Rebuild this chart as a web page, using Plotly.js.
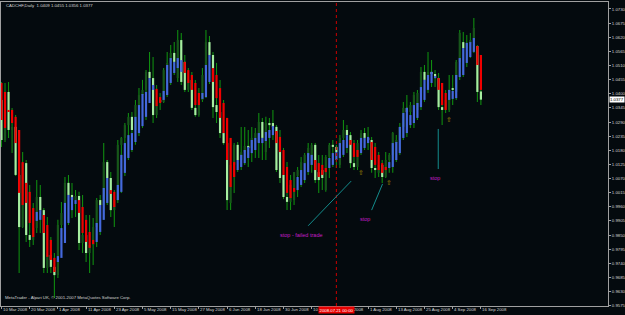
<!DOCTYPE html>
<html><head><meta charset="utf-8">
<script src="https://cdn.plot.ly/plotly-3.0.1.min.js"></script>
<style>html,body{margin:0;padding:0;background:#040a0e;}#chart{width:625px;height:315px;}</style>
</head><body><div id="chart"></div>
<script>
const openP = [1.0376,1.0220,1.0407,1.0259,1.0271,1.0084,0.9881,1.0130,0.9850,0.9831,
0.9877,0.9998,0.9947,0.9722,0.9772,0.9726,0.9694,0.9889,0.9936,1.0053,
1.0006,0.9986,1.0002,0.9819,0.9850,0.9780,0.9811,0.9881,0.9986,0.9967,
1.0134,1.0072,0.9947,0.9986,1.0201,1.0228,1.0278,1.0310,1.0259,1.0356,
1.0395,1.0415,1.0485,1.0461,1.0317,1.0376,1.0368,1.0492,1.0520,1.0559,
1.0461,1.0609,1.0524,1.0415,1.0454,1.0345,1.0317,1.0376,1.0473,1.0601,
1.0551,1.0356,1.0329,1.0247,1.0208,0.9975,1.0123,1.0201,1.0142,1.0173,
1.0197,1.0189,1.0228,1.0212,1.0290,1.0173,1.0286,1.0286,1.0271,1.0181,
1.0084,0.9998,0.9979,0.9986,1.0080,1.0103,1.0130,1.0162,1.0123,1.0201,
1.0095,1.0103,1.0025,1.0154,1.0201,1.0193,1.0123,1.0228,1.0259,1.0239,
1.0130,1.0115,1.0208,1.0247,1.0228,1.0220,1.0111,1.0092,1.0123,1.0076,
1.0142,1.0162,1.0208,1.0220,1.0271,1.0345,1.0329,1.0356,1.0337,1.0403,
1.0485,1.0454,1.0485,1.0477,1.0461,1.0348,1.0337,1.0337,1.0422,1.0407,
1.0524,1.0601,1.0578,1.0598,1.0609,1.0586,1.0409];
const highP = [1.0446,1.0442,1.0446,1.0345,1.0317,1.0259,1.0173,1.0142,1.0045,0.9975,
1.0064,1.0045,0.9955,0.9920,0.9842,0.9780,0.9909,0.9979,1.0076,1.0084,
1.0053,1.0025,1.0018,1.0006,0.9928,0.9928,0.9916,0.9994,1.0006,1.0208,
1.0142,1.0095,1.0025,1.0220,1.0232,1.0286,1.0325,1.0329,1.0376,1.0422,
1.0454,1.0492,1.0563,1.0543,1.0434,1.0403,1.0500,1.0563,1.0590,1.0601,
1.0648,1.0637,1.0551,1.0500,1.0485,1.0454,1.0422,1.0500,1.0648,1.0625,
1.0563,1.0520,1.0454,1.0376,1.0306,1.0228,1.0208,1.0212,1.0271,1.0271,
1.0259,1.0271,1.0267,1.0325,1.0306,1.0310,1.0306,1.0337,1.0278,1.0259,
1.0189,1.0134,1.0084,1.0095,1.0115,1.0154,1.0169,1.0208,1.0208,1.0208,
1.0162,1.0162,1.0162,1.0208,1.0220,1.0201,1.0239,1.0298,1.0278,1.0251,
1.0220,1.0220,1.0259,1.0267,1.0271,1.0232,1.0208,1.0173,1.0142,1.0173,
1.0169,1.0251,1.0239,1.0286,1.0368,1.0395,1.0368,1.0407,1.0415,1.0504,
1.0512,1.0563,1.0531,1.0492,1.0481,1.0442,1.0415,1.0473,1.0473,1.0531,
1.0648,1.0640,1.0629,1.0637,1.0695,1.0590,1.0455];
const lowP = [1.0193,1.0212,1.0228,1.0169,1.0080,0.9702,0.9877,0.9823,0.9803,0.9811,
0.9858,0.9858,0.9702,0.9702,0.9702,0.9605,0.9683,0.9811,0.9889,0.9889,
0.9916,0.9920,0.9792,0.9780,0.9745,0.9702,0.9733,0.9803,0.9850,0.9909,
0.9967,0.9920,0.9881,0.9975,1.0014,1.0080,1.0142,1.0173,1.0201,1.0236,
1.0267,1.0298,1.0364,1.0286,1.0306,1.0337,1.0364,1.0387,1.0434,1.0473,
1.0446,1.0434,1.0407,1.0407,1.0337,1.0310,1.0310,1.0368,1.0383,1.0438,
1.0306,1.0286,1.0228,1.0201,0.9947,0.9947,1.0014,1.0095,1.0103,1.0123,
1.0115,1.0134,1.0150,1.0150,1.0142,1.0142,1.0189,1.0220,1.0095,1.0053,
0.9990,0.9947,0.9947,0.9967,0.9998,1.0037,1.0053,1.0084,1.0092,1.0053,
1.0014,1.0025,1.0018,1.0072,1.0115,1.0111,1.0111,1.0154,1.0169,1.0111,
1.0103,1.0103,1.0162,1.0181,1.0181,1.0092,1.0072,1.0076,1.0053,1.0072,
1.0092,1.0092,1.0134,1.0162,1.0220,1.0232,1.0267,1.0267,1.0298,1.0337,
1.0368,1.0403,1.0426,1.0426,1.0337,1.0278,1.0325,1.0329,1.0356,1.0376,
1.0454,1.0465,1.0504,1.0539,1.0559,1.0368,1.0356];
const closeP = [1.0220,1.0407,1.0259,1.0271,1.0084,0.9881,1.0130,0.9850,0.9831,0.9877,
0.9998,0.9947,0.9722,0.9772,0.9726,0.9694,0.9889,0.9936,1.0053,1.0006,
0.9986,1.0002,0.9819,0.9850,0.9780,0.9811,0.9881,0.9986,0.9967,1.0134,
1.0072,0.9947,0.9986,1.0201,1.0228,1.0278,1.0310,1.0259,1.0356,1.0395,
1.0415,1.0485,1.0461,1.0317,1.0376,1.0368,1.0492,1.0520,1.0559,1.0524,
1.0609,1.0446,1.0415,1.0454,1.0345,1.0317,1.0376,1.0473,1.0601,1.0551,
1.0348,1.0329,1.0247,1.0208,0.9986,1.0123,1.0201,1.0142,1.0173,1.0197,
1.0189,1.0228,1.0247,1.0290,1.0228,1.0286,1.0278,1.0271,1.0103,1.0072,
0.9998,0.9979,1.0045,1.0095,1.0103,1.0134,1.0162,1.0189,1.0201,1.0064,
1.0064,1.0072,1.0154,1.0201,1.0193,1.0173,1.0228,1.0259,1.0239,1.0130,
1.0115,1.0208,1.0247,1.0228,1.0220,1.0111,1.0103,1.0123,1.0076,1.0142,
1.0162,1.0247,1.0220,1.0271,1.0345,1.0329,1.0356,1.0395,1.0403,1.0485,
1.0454,1.0485,1.0477,1.0461,1.0348,1.0337,1.0376,1.0415,1.0415,1.0524,
1.0637,1.0578,1.0598,1.0609,1.0656,1.0407,1.0377];
const haOpen = [1.0442,1.0407,1.0337,1.0337,1.0310,1.0259,1.0134,1.0053,1.0018,0.9955,
0.9905,0.9909,0.9928,0.9889,0.9831,0.9761,0.9745,0.9761,0.9819,0.9897,
0.9947,0.9971,0.9986,0.9959,0.9909,0.9862,0.9831,0.9823,0.9862,0.9909,
0.9975,1.0025,1.0018,0.9986,1.0018,1.0092,1.0150,1.0181,1.0212,1.0247,
1.0274,1.0310,1.0364,1.0415,1.0419,1.0387,1.0376,1.0395,1.0442,1.0481,
1.0500,1.0485,1.0524,1.0492,1.0473,1.0442,1.0403,1.0380,1.0387,1.0446,
1.0500,1.0473,1.0422,1.0364,1.0306,1.0228,1.0134,1.0103,1.0115,1.0130,
1.0150,1.0169,1.0181,1.0208,1.0208,1.0216,1.0228,1.0239,1.0255,1.0232,
1.0181,1.0115,1.0064,1.0033,1.0025,1.0045,1.0064,1.0095,1.0123,1.0142,
1.0130,1.0123,1.0111,1.0111,1.0123,1.0142,1.0150,1.0162,1.0189,1.0220,
1.0208,1.0181,1.0169,1.0189,1.0208,1.0212,1.0193,1.0162,1.0130,1.0115,
1.0111,1.0115,1.0142,1.0169,1.0228,1.0247,1.0278,1.0286,1.0306,1.0348,
1.0376,1.0415,1.0442,1.0461,1.0461,1.0442,1.0403,1.0376,1.0380,1.0383,
1.0465,1.0473,1.0520,1.0543,1.0563,1.0586,1.0551];
const haClose = [1.0298,1.0267,1.0329,1.0286,1.0208,1.0014,0.9967,0.9975,0.9897,0.9842,
0.9940,0.9947,0.9858,0.9765,0.9753,0.9706,0.9768,0.9877,0.9975,1.0006,
0.9998,0.9986,0.9936,0.9858,0.9823,0.9800,0.9815,0.9897,0.9967,1.0033,
1.0072,1.0010,0.9959,1.0045,1.0162,1.0208,1.0239,1.0247,1.0310,1.0356,
1.0399,1.0407,1.0461,1.0434,1.0352,1.0364,1.0411,1.0512,1.0539,1.0524,
1.0539,1.0531,1.0481,1.0442,1.0415,1.0356,1.0356,1.0403,1.0512,1.0551,
1.0446,1.0383,1.0306,1.0247,1.0142,1.0037,1.0076,1.0142,1.0162,1.0181,
1.0193,1.0220,1.0228,1.0247,1.0228,1.0251,1.0259,1.0274,1.0208,1.0173,
1.0084,1.0014,0.9994,1.0018,1.0076,1.0103,1.0130,1.0169,1.0162,1.0103,
1.0076,1.0084,1.0095,1.0150,1.0169,1.0173,1.0208,1.0220,1.0239,1.0201,
1.0154,1.0154,1.0228,1.0228,1.0232,1.0142,1.0123,1.0103,1.0092,1.0103,
1.0134,1.0208,1.0212,1.0271,1.0325,1.0345,1.0317,1.0356,1.0364,1.0426,
1.0454,1.0473,1.0485,1.0469,1.0415,1.0356,1.0337,1.0415,1.0411,1.0473,
1.0539,1.0578,1.0598,1.0601,1.0617,1.0512,1.0415];
const dateTickIdx = [0,8,16,24,32,40,48,56,64,72,80,88,96,104,112,120,128,136];
const dateTickText = ['10 Mar 2008','20 Mar 2008','1 Apr 2008','11 Apr 2008','23 Apr 2008','5 May 2008','15 May 2008','27 May 2008','6 Jun 2008','18 Jun 2008','30 Jun 2008','10 Jul 2008','22 Jul 2008','1 Aug 2008','13 Aug 2008','25 Aug 2008','4 Sep 2008','16 Sep 2008'];
const priceTicks = [1.0730,1.0675,1.0620,1.0565,1.0510,1.0455,1.0400,1.0345,1.0290,1.0235,1.0180,1.0125,1.0070,1.0015,0.9960,0.9905,0.9850,0.9795,0.9740,0.9685,0.9630,0.9575];
const symbolTitle = 'CADCHF,Daily';
const lastPrice = 1.0377;
const cursorBarIdx = 95;
const cursorLabel = '2008.07.21 00:00';
const noteTexts = ['stop - failed trade','stop','stop'];
const noteX = [85, 103, 123];
const noteY = [0.9850, 0.9912, 1.0071];
const arrowX = [102, 110, 127];
const arrowY = [1.0092, 1.0051, 1.0298];
const trendX0 = [87.0, 105.0, 123.9];
const trendY0 = [0.9886, 0.9947, 1.0107];
const trendX1 = [99.2, 108.1, 123.9];
const trendY1 = [1.0060, 1.0049, 1.0263];

const idx = openP.map((_, i) => i);
const MINH = 0.00015;
const fontFam = 'Liberation Sans, Arial, sans-serif';
const txtCol = '#d4d4d4';
const SMALL = 4.3;

const wick = {type:'bar', x: idx, base: lowP, y: highP.map((h,i)=>Math.max(h-lowP[i],MINH)),
  width: 0.3, marker:{color:'#109010', line:{width:0}}, hoverinfo:'skip', showlegend:false};
const body = {type:'bar', x: idx, base: openP.map((o,i)=>Math.min(o,closeP[i])),
  y: openP.map((o,i)=>Math.max(Math.abs(closeP[i]-o),MINH)), width: 0.62,
  marker:{color: openP.map((o,i)=> closeP[i] >= o ? '#17561a' : '#a6eea0'), line:{width:0}},
  hoverinfo:'skip', showlegend:false};
const ha = {type:'bar', x: idx, base: haOpen.map((o,i)=>Math.min(o,haClose[i])),
  y: haOpen.map((o,i)=>Math.max(Math.abs(haClose[i]-o),MINH)), width: 0.62,
  marker:{color: haOpen.map((o,i)=> haClose[i] >= o ? '#4468dc' : '#f00000'), line:{width:0}},
  hoverinfo:'skip', showlegend:false};

const ann = [];
ann.push({xref:'paper', yref:'paper', x:0.005, y:0.99, xanchor:'left', yanchor:'middle', showarrow:false,
  text: symbolTitle + '\u00a0\u00a0' + [openP[136],highP[136],lowP[136],closeP[136]].map(v=>v.toFixed(4)).join(' '),
  font:{family:fontFam, size:SMALL, color:txtCol}});
ann.push({xref:'paper', yref:'paper', x:0.004, y:0.029, xanchor:'left', yanchor:'middle', showarrow:false,
  text:'MetaTrader - Alpari UK, \u00a9 2001-2007 MetaQuotes Software Corp.', font:{family:fontFam, size:SMALL, color:txtCol}});
dateTickIdx.forEach((t,i)=>ann.push({xref:'x', yref:'paper', x:t, y:-0.012, xanchor:'left', yanchor:'middle',
  xshift:-0.5, showarrow:false, text:dateTickText[i], font:{family:fontFam, size:SMALL, color:txtCol}}));
ann.push({xref:'paper', yref:'y', x:1.0, xshift:1, y:lastPrice, xanchor:'left', yanchor:'middle', showarrow:false,
  text:lastPrice.toFixed(4), bgcolor:'#ffffff', borderpad:0, font:{family:fontFam, size:SMALL, color:'#000000'}});
ann.push({xref:'x', yref:'paper', x:cursorBarIdx, y:-0.014, xanchor:'center', yanchor:'middle', showarrow:false,
  text:cursorLabel, bgcolor:'#e80000', borderpad:0.5, font:{family:fontFam, size:SMALL, color:'#ffffff'}});
noteTexts.forEach((t,i)=>ann.push({xref:'x', yref:'y', x:noteX[i], y:noteY[i], showarrow:false,
  text:t, font:{family:fontFam, size:5.5, color:'#c41cc4'}}));
arrowX.forEach((x,i)=>ann.push({xref:'x', yref:'y', x:x, y:arrowY[i], showarrow:false,
  text:'\u21e7', font:{family:'DejaVu Sans', size:7, color:'#a88c00'}}));

const shapes = [];
shapes.push({type:'line', xref:'x', yref:'paper', x0:cursorBarIdx, x1:cursorBarIdx, y0:0, y1:1,
  line:{color:'#c80000', width:1, dash:'dot'}});
trendX0.forEach((x,i)=>shapes.push({type:'line', xref:'x', yref:'y', x0:x, y0:trendY0[i], x1:trendX1[i], y1:trendY1[i],
  line:{color:'#138c8c', width:1}}));

const layout = {
  width:625, height:315, margin:{l:1, r:17, t:2, b:9},
  paper_bgcolor:'#040a0e', plot_bgcolor:'#040a0e', barmode:'overlay', showlegend:false,
  xaxis:{range:[-0.142,172.06], tickvals:dateTickIdx, showticklabels:false, ticks:'outside', ticklen:2,
    tickcolor:'#a0a0a0', showline:true, linecolor:'#a0a0a0', linewidth:1, mirror:true,
    showgrid:false, zeroline:false, fixedrange:true},
  yaxis:{side:'right', range:[0.95737,1.07572], tickvals:priceTicks, ticktext:priceTicks.map(v=>v.toFixed(4)),
    ticks:'outside', ticklen:2, tickcolor:'#a0a0a0', tickfont:{family:fontFam, size:SMALL, color:txtCol},
    showline:true, linecolor:'#a0a0a0', linewidth:1, mirror:true, showgrid:false, zeroline:false, fixedrange:true},
  annotations: ann, shapes: shapes
};
Plotly.newPlot('chart', [wick, body, ha], layout, {displayModeBar:false, staticPlot:true});
</script></body></html>
